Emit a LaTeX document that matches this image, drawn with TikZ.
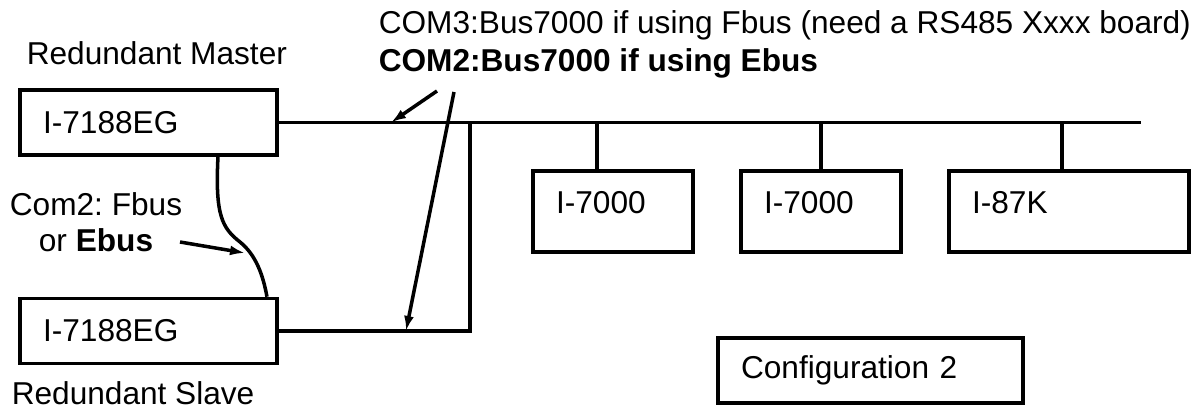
\documentclass[tikz,border=0pt]{standalone}
\usepackage{fontspec}
\setmainfont{Liberation Sans}
\usetikzlibrary{arrows.meta}
\frenchspacing

\begin{document}
\begin{tikzpicture}[x=0.02cm, y=-0.02cm, line width=2pt,
		font=\fontsize{18pt}{21pt}\selectfont,
		unit/.style={draw, rectangle, inner xsep=0.46cm, inner ysep=0pt, text width=#1, align=left},
		note/.style={inner sep=0pt},
		pointer/.style={-{Latex[length=0.3cm,width=0.2cm]}}]
				\useasboundingbox (0,0) rectangle (1204,411);
				
				% draw the two controllers
				\node[unit=4.22cm, minimum height=1.3cm] (master) at (148.5,122.5) {I-7188EG};
				\node[unit=4.22cm, minimum height=1.3cm] (slave) at (148.5,331) {I-7188EG};
				\node[note, anchor=base west] (master label) at (25,65) {Redundant Master};
				\node[note, anchor=base west] (slave label) at (10,405) {Redundant Slave};
				
				% draw the I/O modules
				\node[unit=2.28cm, minimum height=1.62cm, text depth=0.38cm] (io1) at (613,211.5) {I-7000};
				\node[unit=2.28cm, minimum height=1.62cm, text depth=0.38cm] (io2) at (821,211.5) {I-7000};
				\node[unit=3.88cm, minimum height=1.62cm, text depth=0.38cm] (io3) at (1069,211.5) {I-87K};
				\node[unit=5.18cm, minimum height=1.3cm] (config) at (870.5,370.5) {Configuration 2};
				
				% draw the bus line
				\coordinate (bus end) at (1141,122.5);
				\coordinate (tap) at (470,122.5);
				\draw (master.east) -- (bus end);
				\draw (tap) |- (slave.east);
				
				% draw vertical lines
				\foreach \n/\d in {io1/-0.32cm, io2/0cm, io3/-0.14cm}
				\draw ([xshift=\d]\n.north) -- ([xshift=\d]\n.north |- master.east);
				
				% draw the link between the controllers
				\draw ([xshift=1.39cm]master.south) .. controls (215,215) and (222,228) .. (240,242)
					.. controls (256,255) and (263,275) .. ([xshift=2.37cm]slave.north);
				
				% draw notes and arrows
				\node[note, anchor=base west] (fbus note) at (377,34) {COM3:Bus7000 if using Fbus (need a RS485 Xxxx board)};
				\node[note, anchor=base west] (ebus note) at (377,72) {\textbf{COM2:Bus7000 if using Ebus}};
				\node[note, anchor=base, align=center] (com2 note) at (96,252) {Com2: Fbus\\or \textbf{Ebus}};
				\coordinate (bus start) at (437,91);
				\coordinate (bus tip) at (391,122.5);
				\coordinate (slave start) at (454,92);
				\coordinate (slave tip) at (406,331);
				\coordinate (link start) at (180,242);
				\coordinate (link tip) at (245,253);
				\draw[pointer] (bus start) -- (bus tip);
				\draw[pointer] (slave start) -- (slave tip);
				\draw[pointer] (link start) -- (link tip);
\end{tikzpicture}
\end{document}
